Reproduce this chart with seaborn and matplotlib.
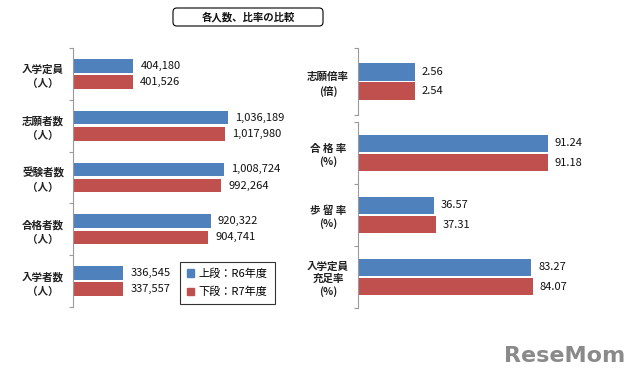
import numpy as np
import pandas as pd
import matplotlib
matplotlib.use("Agg")
import matplotlib.pyplot as plt
import matplotlib.patches as mpatches
import seaborn as sns

plt.rcParams['font.family'] = ['Noto Sans CJK JP', 'DejaVu Sans']

# data
years = ["上段：R6年度", "下段：R7年度"]
colors = ["#4F81BD", "#C0504D"]

count_cats = ["入学定員\n（人）", "志願者数\n（人）", "受験者数\n（人）", "合格者数\n（人）", "入学者数\n（人）"]
count_r6 = [404180, 1036189, 1008724, 920322, 336545]
count_r7 = [401526, 1017980, 992264, 904741, 337557]

ratio_cats = ["志願倍率\n(倍)"]
ratio_r6 = [2.56]
ratio_r7 = [2.54]

rate_cats = ["合 格 率\n(%)", "歩 留 率\n(%)", "入学定員\n充足率\n(%)"]
rate_r6 = [91.24, 36.57, 83.27]
rate_r7 = [91.18, 37.31, 84.07]


def make_df(cats, v6, v7):
    return pd.DataFrame({
        "cat": cats * 2,
        "val": v6 + v7,
        "year": [years[0]] * len(cats) + [years[1]] * len(cats),
    })


W, H = 640, 378
fig = plt.figure(figsize=(6.4, 3.78), dpi=100)


def px_axes(x0, top, bottom, width):
    return fig.add_axes([x0 / W, 1 - bottom / H, width / W, (bottom - top) / H])


def draw(ax, df, cats, xmax, fmt, width, gap, lsp):
    sns.barplot(data=df, y="cat", x="val", hue="year", orient="h",
                palette=colors, width=width, gap=gap, ax=ax, legend=False,
                linewidth=0, saturation=1)
    n = len(cats)
    ax.set_xlim(0, xmax)
    ax.set_ylim(n - 0.5, -0.5)
    for c in ax.containers:
        ax.bar_label(c, fmt=fmt, padding=5, fontsize=8, color="#111111")
    for s in ["top", "right", "bottom"]:
        ax.spines[s].set_visible(False)
    ax.spines["left"].set_color("#9a9a9a")
    ax.spines["left"].set_linewidth(0.8)
    ax.set_xticks([])
    ax.set_xlabel("")
    ax.set_ylabel("")
    ax.set_yticks(range(n))
    ax.set_yticklabels(cats, ha="center", multialignment="center",
                       fontsize=7.6, fontweight="bold", color="#222222",
                       linespacing=lsp)
    ax.tick_params(axis="y", which="major", length=0, pad=21.5)
    ax.set_yticks(np.arange(-0.5, n), minor=True)
    ax.tick_params(axis="y", which="minor", left=True, length=3,
                   color="#9a9a9a", width=0.8)
    ax.set_facecolor("none")


ax1 = px_axes(73, 48, 307, 180)
draw(ax1, make_df(count_cats, count_r6, count_r7), count_cats,
     180 * 1036189 / 155, "{:,.0f}", 0.62, 0.15, 1.5)

ax2 = px_axes(358, 48, 115, 208)
draw(ax2, make_df(ratio_cats, ratio_r6, ratio_r7), ratio_cats,
     208 * 2.56 / 57, "{:.2f}", 0.58, 0.1, 1.45)

ax3 = px_axes(358, 122, 308, 208)
draw(ax3, make_df(rate_cats, rate_r6, rate_r7), rate_cats,
     100, "{:.2f}", 0.63, 0.12, 1.3)

# legend
handles = [mpatches.Patch(color=c, label=y) for c, y in zip(colors, years)]
leg = fig.legend(handles=handles, loc="upper left",
                 bbox_to_anchor=(180 / W, 1 - 262 / H), borderaxespad=0,
                 fontsize=8, frameon=True, fancybox=False,
                 handlelength=0.7, handleheight=0.7, handletextpad=0.4,
                 labelspacing=0.7, borderpad=0.6)
leg.get_frame().set_edgecolor("black")
leg.get_frame().set_linewidth(0.8)

# title box
box = mpatches.FancyBboxPatch((173 / W, 1 - 26 / H), 150 / W, 18 / H,
                              boxstyle="round,pad=0,rounding_size=0.006",
                              mutation_aspect=W / H, transform=fig.transFigure,
                              facecolor="white", edgecolor="black", linewidth=0.8)
fig.add_artist(box)
fig.text(248 / W, 1 - 17 / H, "各人数、比率の比較", ha="center", va="center",
         fontsize=7.5, fontweight="bold", color="#111111")

# watermark
fig.text(625 / W, 1 - 356 / H, "ReseMom", ha="right", va="center",
         fontsize=16, fontweight="bold", color="#8a8a8a", family="DejaVu Sans")

fig.savefig("out.png", dpi=100)
